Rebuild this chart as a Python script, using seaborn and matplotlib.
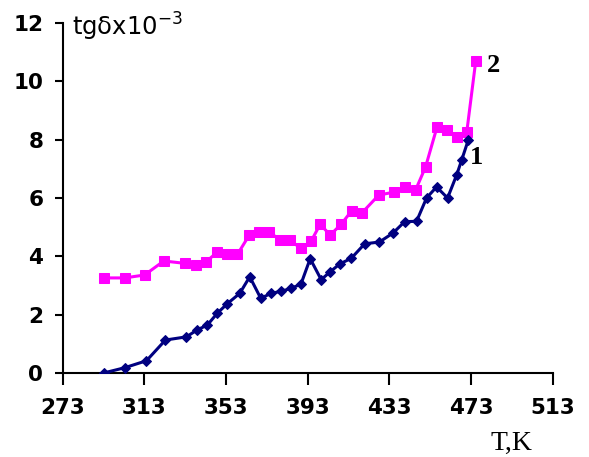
import matplotlib
matplotlib.use("Agg")
import matplotlib.pyplot as plt
import seaborn as sns
import pandas as pd

# Series 2 (magenta squares)
t2 = [293.0, 303.3, 313.1, 322.5, 332.8, 338.1, 343.0, 348.8, 353.7, 358.6,
      364.3, 369.2, 374.1, 379.4, 384.5, 389.6, 394.6, 399.1, 404.0, 409.4,
      414.6, 419.7, 427.8, 435.2, 440.5, 445.8, 450.7, 456.4, 461.0, 466.0,
      470.9, 475.3]
v2 = [3.26, 3.26, 3.36, 3.84, 3.76, 3.70, 3.80, 4.15, 4.07, 4.07,
      4.72, 4.85, 4.85, 4.55, 4.55, 4.27, 4.51, 5.10, 4.73, 5.10,
      5.57, 5.50, 6.10, 6.20, 6.38, 6.27, 7.06, 8.45, 8.33, 8.10,
      8.26, 10.70]

# Series 1 (navy diamonds)
t1 = [293.0, 303.3, 314.0, 323.3, 333.6, 338.9, 343.8, 348.7, 353.7, 359.7,
      364.6, 370.0, 375.0, 379.9, 384.8, 389.7, 394.2, 399.6, 404.0, 408.7,
      414.3, 420.9, 428.1, 434.8, 440.5, 446.3, 451.2, 456.1, 461.5, 466.0,
      468.4, 471.7]
v1 = [0.00, 0.18, 0.42, 1.13, 1.24, 1.48, 1.64, 2.05, 2.38, 2.73,
      3.30, 2.56, 2.73, 2.80, 2.90, 3.05, 3.92, 3.20, 3.47, 3.74,
      3.93, 4.43, 4.49, 4.80, 5.19, 5.20, 6.00, 6.38, 6.00, 6.80,
      7.30, 8.00]

x_ticks = [273, 313, 353, 393, 433, 473, 513]
y_ticks = [0, 2, 4, 6, 8, 10, 12]

sns.set_style("white")
plt.rcParams['font.family'] = ['DejaVu Sans']

fig = plt.figure(figsize=(5.89, 4.57), dpi=100)
ax = fig.add_axes([0.1065, 0.1838, 0.8319, 0.7659])

df2 = pd.DataFrame({"T": t2, "v": v2})
df1 = pd.DataFrame({"T": t1, "v": v1})

sns.lineplot(data=df2, x="T", y="v", ax=ax, color="#FF00FF", marker="s",
             markersize=6.5, markeredgecolor="#FF00FF", linewidth=2.2,
             sort=False, estimator=None)
sns.lineplot(data=df1, x="T", y="v", ax=ax, color="#000080", marker="D",
             markersize=4.8, markeredgecolor="#000080", linewidth=2.2,
             sort=False, estimator=None)

ax.set_xlim(273, 513)
ax.set_ylim(0, 12)
ax.set_xticks(x_ticks)
ax.set_yticks(y_ticks)
ax.set_xlabel("")
ax.set_ylabel("")

for s in ["top", "right"]:
    ax.spines[s].set_visible(False)
for s in ["left", "bottom"]:
    ax.spines[s].set_color("black")
    ax.spines[s].set_linewidth(1.5)
    ax.spines[s].set_zorder(0.5)

ax.tick_params(axis="x", direction="out", length=8.5, width=1.5, pad=9.5,
               labelsize=15.5, colors="black", bottom=True)
ax.tick_params(axis="y", direction="out", length=6, width=1.5, pad=8,
               labelsize=15.5, colors="black", left=True)
for lab in ax.get_xticklabels() + ax.get_yticklabels():
    lab.set_fontweight("bold")
ax.grid(False)

fig.text(72 / 589, 1 - 36 / 457, r"tgδx10$^{\mathregular{-3}}$",
         fontsize=17.5, ha="left", va="baseline", color="black")
fig.text(511 / 589, 1 - 443 / 457, "T,K", fontsize=20, ha="center", va="center",
         family=["Liberation Serif"], color="black")
fig.text(477 / 589, 1 - 158 / 457, "1", fontsize=19, ha="center", va="center",
         family=["Liberation Serif"], fontweight="bold", color="black")
fig.text(493 / 589, 1 - 65 / 457, "2", fontsize=19, ha="center", va="center",
         family=["Liberation Serif"], fontweight="bold", color="black")

fig.savefig("out.png", dpi=100, facecolor="white")
